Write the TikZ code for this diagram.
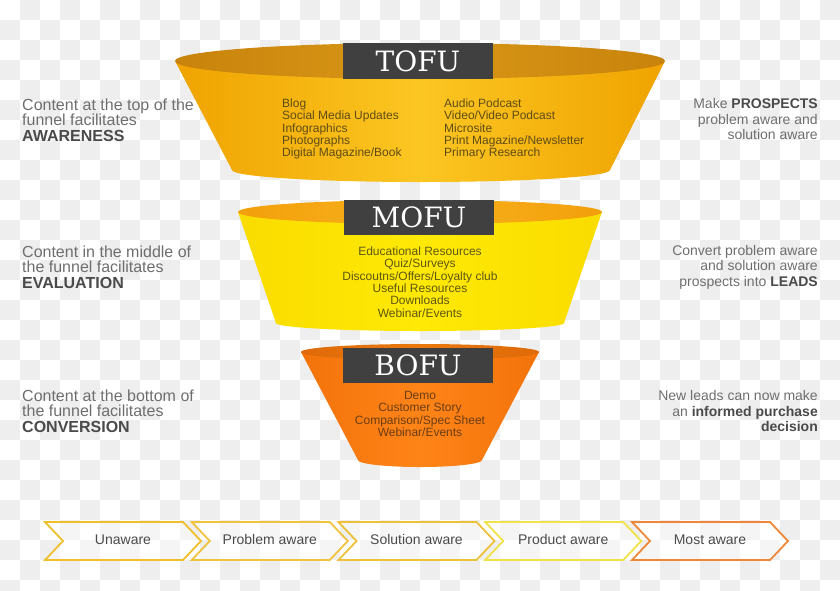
\documentclass[tikz,border=0pt]{standalone}
\usepackage{fontspec}
\setmainfont{Liberation Sans}
\newfontfamily\slabfont{DejaVu Serif}
\usepackage{xcolor}
\usetikzlibrary{positioning}

\definecolor{checkgrey}{HTML}{EEEEEE}
\definecolor{boxgrey}{HTML}{404040}
\definecolor{sidegrey}{HTML}{6E6E6E}
\definecolor{sidedark}{HTML}{4A4A4A}
\definecolor{tofuedge}{HTML}{EFA300}
\definecolor{tofumid}{HTML}{FCC622}
\definecolor{tofuin}{HTML}{C8830C}
\definecolor{tofuinmid}{HTML}{D99817}
\definecolor{mofuedge}{HTML}{F9DC00}
\definecolor{mofumid}{HTML}{FFE905}
\definecolor{mofuin}{HTML}{F2A00C}
\definecolor{mofuinmid}{HTML}{F8B21C}
\definecolor{bofuedge}{HTML}{F2730A}
\definecolor{bofumid}{HTML}{FF8418}
\definecolor{bofuin}{HTML}{DF6A08}
\definecolor{bofuinmid}{HTML}{EA7810}
\definecolor{tofutext}{HTML}{5E4C1A}
\definecolor{mofutext}{HTML}{5E5716}
\definecolor{bofutext}{HTML}{6A3D16}
\definecolor{chevtext}{HTML}{4A4A4A}
\definecolor{chevA}{HTML}{EFBF2C}
\definecolor{chevB}{HTML}{F0C23E}
\definecolor{chevC}{HTML}{EDC13A}
\definecolor{chevD}{HTML}{F2E24A}
\definecolor{chevE}{HTML}{EE8838}

\begin{document}
\begin{tikzpicture}[
    x=1pt, y=1pt,
    labelbox/.style={
      rectangle, fill=boxgrey, text=white, inner sep=0pt,
      minimum width=150pt, minimum height=36pt,
      font=\slabfont\fontsize{28}{28}\selectfont
    },
    listtext/.style={
      inner sep=0pt, font=\fontsize{12}{12.4}\selectfont
    },
    sidetext/.style={
      inner sep=0pt, text=sidegrey, font=\fontsize{14}{15.5}\selectfont
    },
    leftnote/.style={
      sidetext, anchor=west, align=left, font=\fontsize{16}{15.5}\selectfont
    },
    rightnote/.style={
      sidetext, anchor=east, align=right
    },
    chevlabel/.style={
      inner sep=0pt, text=chevtext, text height=10pt, text depth=3pt,
      font=\fontsize{14}{14}\selectfont
    },
    chevline/.style={line width=1.8pt, line join=miter, fill=white, fill opacity=0.45}
  ]
    \useasboundingbox (0,0) rectangle (840,-590);
    \clip (0,0) rectangle (840,-590);

    % Checkerboard background
    \foreach \j in {0,...,29}{
      \pgfmathtruncatemacro\sa{mod(\j+1,2)}
      \pgfmathtruncatemacro\sb{\sa+2}
      \foreach \i in {\sa,\sb,...,41}{
        \fill[checkgrey] (20*\i,-20*\j) rectangle ++(20,-20);
      }
    }

    % TOFU
    \shade[left color=tofuedge, right color=tofuedge, middle color=tofumid]
      (175,-61) -- (232,-170) arc[start angle=180, end angle=360, x radius=189, y radius=12]
      -- (665,-61) -- cycle;
    \shade[left color=tofuin, right color=tofuin, middle color=tofuinmid]
      (420,-61) ellipse[x radius=245, y radius=18];
    \node[labelbox] (tofu) at (418,-61) {TOFU};
    \node[listtext, text=tofutext, anchor=west, align=left] (toful) at (282,-129)
      {Blog\\Social Media Updates\\Infographics\\Photographs\\Digital Magazine/Book};
    \node[listtext, text=tofutext, anchor=west, align=left] (tofur) at (444,-129)
      {Audio Podcast\\Video/Video Podcast\\Microsite\\Print Magazine/Newsletter\\Primary Research};

    % MOFU
    \shade[left color=mofuedge, right color=mofuedge, middle color=mofumid]
      (238,-212) -- (276,-323) arc[start angle=180, end angle=360, x radius=144, y radius=8]
      -- (602,-212) -- cycle;
    \shade[left color=mofuin, right color=mofuin, middle color=mofuinmid]
      (420,-212) ellipse[x radius=182, y radius=12];
    \node[labelbox, minimum height=35pt] (mofu) at (419,-217.5) {MOFU};
    \node[listtext, text=mofutext, align=center] (mofulist) at (420,-282)
      {Educational Resources\\Quiz/Surveys\\Discoutns/Offers/Loyalty club\\Useful Resources\\Downloads\\Webinar/Events};

    % BOFU
    \shade[left color=bofuedge, right color=bofuedge, middle color=bofumid]
      (301,-352) -- (358,-460) arc[start angle=180, end angle=360, x radius=62, y radius=7]
      -- (539,-352) -- cycle;
    \shade[left color=bofuin, right color=bofuin, middle color=bofuinmid]
      (420,-352) ellipse[x radius=119, y radius=8];
    \node[labelbox, minimum height=35pt] (bofu) at (418,-365.5) {BOFU};
    \node[listtext, text=bofutext, align=center] (bofulist) at (420,-414)
      {Demo\\Customer Story\\Comparison/Spec Sheet\\Webinar/Events};

    % Left side notes
    \node[leftnote] (awareness) at (22,-120)
      {Content at the top of the\\funnel facilitates\\\textcolor{sidedark}{\textbf{AWARENESS}}};
    \node[leftnote] (evaluation) at (22,-267)
      {Content in the middle of\\the funnel facilitates\\\textcolor{sidedark}{\textbf{EVALUATION}}};
    \node[leftnote] (conversion) at (22,-411)
      {Content at the bottom of\\the funnel facilitates\\\textcolor{sidedark}{\textbf{CONVERSION}}};

    % Right side notes
    \node[rightnote] (prospects) at (818,-119)
      {Make \textcolor{sidedark}{\textbf{PROSPECTS}}\\problem aware and\\solution aware};
    \node[rightnote] (leads) at (818,-267)
      {Convert problem aware\\and solution aware\\prospects into \textcolor{sidedark}{\textbf{LEADS}}};
    \node[rightnote] (decision) at (818,-411)
      {New leads can now make\\an \textcolor{sidedark}{\textbf{informed purchase}}\\\textcolor{sidedark}{\textbf{decision}}};

    % Awareness stages
    \foreach \n/\col/\txt [count=\k from 0] in {unaware/chevA/Unaware, problem/chevB/Problem aware,
        solution/chevC/Solution aware, product/chevD/Product aware, most/chevE/Most aware}{
      \pgfmathsetmacro\xo{45+146.75*\k}
      \draw[chevline, draw=\col] (\xo,-522) -- ++(138,0) -- ++(18,-19) -- ++(-18,-19)
        -- ++(-138,0) -- ++(18,19) -- cycle;
      \node[chevlabel] (\n) at (\xo+78,-541) {\txt};
    }
  \end{tikzpicture}
\end{document}
